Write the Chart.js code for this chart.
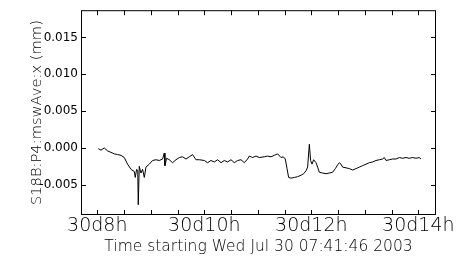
<!DOCTYPE html>
<html>
<head>
<meta charset="utf-8">
<script src="https://cdn.jsdelivr.net/npm/chart.js"></script>
<style>
  body { margin: 0; background: #fff; }
  #wrap { width: 457px; height: 262px; }
</style>
</head>
<body>
<div id="wrap"><canvas id="mycanvas"></canvas></div>
<script>
// hours of the day (30 Jul 2003) and displacement in mm
var hours = [
  8.019, 8.069, 8.131, 8.193, 8.256, 8.318, 8.379, 8.443, 8.505, 8.566,
  8.630, 8.692, 8.710, 8.735, 8.757, 8.766, 8.785, 8.817, 8.847, 8.879,
  8.910, 8.972, 9.034, 9.097, 9.159, 9.221, 9.252, 9.265, 9.295, 9.346,
  9.407, 9.471, 9.533, 9.594, 9.658, 9.720, 9.781, 9.845, 9.907, 10.000,
  10.062, 10.125, 10.187, 10.249, 10.312, 10.374, 10.436, 10.499, 10.561, 10.622,
  10.686, 10.748, 10.809, 10.841, 10.903, 10.966, 11.028, 11.121, 11.183, 11.247,
  11.308, 11.370, 11.434, 11.477, 11.514, 11.546, 11.576, 11.621, 11.682, 11.744,
  11.808, 11.856, 11.901, 11.931, 11.963, 11.987, 12.013, 12.043, 12.088, 12.118,
  12.150, 12.211, 12.275, 12.336, 12.398, 12.449, 12.492, 12.523, 12.555, 12.585,
  12.649, 12.710, 12.772, 12.836, 12.897, 12.959, 13.022, 13.084, 13.146, 13.209,
  13.271, 13.333, 13.364, 13.396, 13.458, 13.520, 13.583, 13.645, 13.707, 13.770,
  13.832, 13.894, 13.957, 14.019, 14.050
];
var msw_value = [
  -0.0001, -0.0003, 0.0000, -0.0004, -0.0006, -0.0008, -0.0009, -0.0010, -0.0013, -0.0022,
  -0.0029, -0.0032, -0.0040, -0.0029, -0.0031, -0.0077, -0.0025, -0.0034, -0.0029, -0.0040,
  -0.0026, -0.0022, -0.0017, -0.0016, -0.0017, -0.0015, -0.0007, -0.0024, -0.0014, -0.0016,
  -0.0020, -0.0016, -0.0013, -0.0012, -0.0015, -0.0012, -0.0009, -0.0016, -0.0016, -0.0017,
  -0.0020, -0.0017, -0.0019, -0.0016, -0.0020, -0.0017, -0.0019, -0.0016, -0.0020, -0.0017,
  -0.0016, -0.0020, -0.0015, -0.0011, -0.0013, -0.0011, -0.0013, -0.0012, -0.0011, -0.0012,
  -0.0010, -0.0008, -0.0013, -0.0012, -0.0015, -0.0028, -0.0040, -0.0041, -0.0040, -0.0039,
  -0.0037, -0.0035, -0.0031, -0.0026, 0.0005, -0.0017, -0.0022, -0.0016, -0.0020, -0.0026,
  -0.0033, -0.0034, -0.0035, -0.0034, -0.0033, -0.0028, -0.0023, -0.0020, -0.0022, -0.0026,
  -0.0027, -0.0028, -0.0030, -0.0028, -0.0026, -0.0024, -0.0022, -0.0020, -0.0019, -0.0017,
  -0.0016, -0.0015, -0.0013, -0.0017, -0.0016, -0.0015, -0.0015, -0.0013, -0.0014, -0.0013,
  -0.0014, -0.0013, -0.0014, -0.0013, -0.0015
];
var x_labels = ["30d8h", "30d10h", "30d12h", "30d14h"];
var x_label_hours = [8, 10, 12, 14];
var y_labels = ["-0.005", "0.000", "0.005", "0.010", "0.015"];

var points = [];
for (var i in hours) {
  points.push({x: hours[i], y: msw_value[i]});
}

// frame with ticks pointing inwards on all four sides
var inwardTicks = {
  id: 'inwardTicks',
  afterDatasetsDraw: function(chart) {
    var ctx = chart.ctx, a = chart.chartArea;
    var xs = chart.scales.x, ys = chart.scales.y;
    ctx.save();
    ctx.strokeStyle = '#000';
    ctx.lineWidth = 1;
    ctx.strokeRect(a.left + 0.5, a.top + 0.5, a.right - a.left - 1, a.bottom - a.top - 1);
    ctx.beginPath();
    xs.ticks.forEach(function(t) {
      var px = Math.round(xs.getPixelForValue(t.value)) + 0.5;
      ctx.moveTo(px, a.bottom); ctx.lineTo(px, a.bottom - 5);
      ctx.moveTo(px, a.top); ctx.lineTo(px, a.top + 5);
    });
    ys.ticks.forEach(function(t) {
      var py = Math.round(ys.getPixelForValue(t.value)) + 0.5;
      ctx.moveTo(a.left, py); ctx.lineTo(a.left + 5, py);
      ctx.moveTo(a.right, py); ctx.lineTo(a.right - 5, py);
    });
    ctx.stroke();
    ctx.restore();
  }
};

var ctx = document.getElementById('mycanvas');
var LineGraph = new Chart(ctx, {
  type: 'line',
  data: {
    datasets: [{
      label: 'S18B:P4:mswAve:x',
      data: points,
      borderColor: '#000',
      borderWidth: 1,
      pointRadius: 0,
      tension: 0,
      fill: false
    }]
  },
  options: {
    responsive: true,
    maintainAspectRatio: false,
    animation: false,
    layout: { padding: { left: 0, top: 5, right: 21, bottom: 0 } },
    plugins: { legend: { display: false }, tooltip: { enabled: false } },
    scales: {
      x: {
        type: 'linear',
        min: 7.696,
        max: 14.33,
        afterFit: function(s) { s.height = 47; },
        grid: { display: false, drawTicks: false },
        border: { display: false },
        ticks: {
          stepSize: 0.5,
          includeBounds: false,
          autoSkip: false,
          maxRotation: 0,
          padding: 0,
          color: '#000',
          font: { family: 'DejaVu Sans', size: 19, weight: 200 },
          callback: function(v) {
            var k = x_label_hours.indexOf(v);
            return k >= 0 ? x_labels[k] : '';
          }
        },
        title: {
          display: true,
          text: 'Time starting Wed Jul 30 07:41:46 2003',
          color: '#000',
          padding: { top: 0, bottom: 6 },
          font: { family: 'DejaVu Sans', size: 15.5, weight: 200 }
        }
      },
      y: {
        min: -0.0091,
        max: 0.0187,
        afterFit: function(s) { s.width = 81; },
        grid: { display: false, drawTicks: false },
        border: { display: false },
        ticks: {
          stepSize: 0.005,
          includeBounds: false,
          padding: 3,
          color: '#000',
          font: { family: 'DejaVu Sans', size: 12 },
          callback: function(v) {
            var k = Math.round(v / 0.005) + 1;
            return y_labels[k];
          }
        },
        title: {
          display: true,
          text: 'S18B:P4:mswAve:x (mm)',
          color: '#000',
          padding: { top: 28, bottom: 0 },
          font: { family: 'DejaVu Sans', size: 14.7, weight: 200 }
        }
      }
    }
  },
  plugins: [inwardTicks]
});
</script>
</body>
</html>
